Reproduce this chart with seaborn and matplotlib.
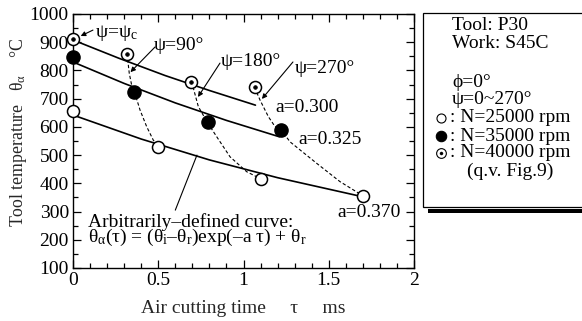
import matplotlib
matplotlib.use("Agg")
import matplotlib.pyplot as plt
import seaborn as sns
import pandas as pd
from matplotlib.lines import Line2D
from matplotlib.patches import Rectangle
from matplotlib.ticker import MultipleLocator, FixedLocator, FixedFormatter

# ---------------- data ----------------
tau_25 = [0.0, 0.50, 1.10, 1.70]
temp_25 = [657, 529, 415, 356]
tau_35 = [0.0, 0.36, 0.79, 1.22]
temp_35 = [848, 725, 616, 590]
tau_40 = [0.0, 0.317, 0.692, 1.065]
temp_40 = [910, 859, 760, 740]

# fitted (solid) curves
fit300_tau = [0.0, 0.27, 0.54, 0.80, 1.07]
fit300_temp = [908, 843, 782, 729, 677]
fit325_tau = [0.0, 0.30, 0.60, 0.90, 1.21]
fit325_temp = [830, 754, 685, 623, 565]
fit370_tau = [0.0, 0.40, 0.80, 1.20, 1.68]
fit370_temp = [642, 557, 483, 420, 355]

# iso-psi (dashed) curves
psi90_tau = [0.317, 0.330, 0.345, 0.36, 0.393, 0.432, 0.471, 0.504]
psi90_temp = [859, 790, 745, 725, 660, 601, 553, 530]
psi180_tau = [0.692, 0.706, 0.735, 0.788, 0.843, 0.921, 1.019, 1.105]
psi180_temp = [760, 737, 672, 616, 565, 494, 441, 415]
psi270_tau = [1.065, 1.097, 1.146, 1.185, 1.22, 1.273, 1.429, 1.566, 1.70]
psi270_temp = [740, 695, 636, 601, 590, 547, 471, 406, 356]

xtick_vals = [0, 0.5, 1, 1.5, 2]
xtick_labels = ["0", "0.5", "1", "1.5", "2"]
ytick_vals = [100, 200, 300, 400, 500, 600, 700, 800, 900, 1000]
ytick_labels = [str(v) for v in ytick_vals]

legend_lines = ["Tool: P30", "Work: S45C", "ϕ=0°", "ψ=0~270°",
                ": N=25000 rpm", ": N=35000 rpm", ": N=40000 rpm", "(q.v. Fig.9)"]

# ---------------- style ----------------
sns.set_theme(style="ticks")
plt.rcParams["font.family"] = ["Liberation Serif", "DejaVu Serif"]
plt.rcParams.update({
    "mathtext.fontset": "custom",
    "mathtext.rm": "Liberation Serif",
    "mathtext.it": "Liberation Serif",
    "mathtext.default": "regular",
    "axes.linewidth": 1.0,
    "axes.edgecolor": "black",
    "text.color": "black",
    "xtick.color": "black",
    "ytick.color": "black",
})

FS = 14

fig = plt.figure(figsize=(5.82, 3.21), dpi=100)
ax = fig.add_axes([73/582, 1-268/321, (414-73)/582, (268-14)/321])

# solid fitted curves
for t, v in [(fit300_tau, fit300_temp), (fit325_tau, fit325_temp), (fit370_tau, fit370_temp)]:
    sns.lineplot(x=t, y=v, ax=ax, color="black", lw=1.2, sort=False, estimator=None, zorder=2)

# dashed iso-psi curves
for t, v in [(psi90_tau, psi90_temp), (psi180_tau, psi180_temp), (psi270_tau, psi270_temp)]:
    sns.lineplot(x=t, y=v, ax=ax, color="black", lw=0.8, sort=False, estimator=None,
                 linestyle=(0, (3, 2)), zorder=2)

# markers
sns.scatterplot(x=tau_25, y=temp_25, ax=ax, s=75, color="white", edgecolor="black",
                linewidth=1.1, zorder=4, clip_on=False)
sns.scatterplot(x=tau_35, y=temp_35, ax=ax, s=90, color="black", edgecolor="black",
                linewidth=1.0, zorder=4, clip_on=False)
sns.scatterplot(x=tau_40, y=temp_40, ax=ax, s=75, color="white", edgecolor="black",
                linewidth=1.1, zorder=4, clip_on=False)
sns.scatterplot(x=tau_40, y=temp_40, ax=ax, s=7, color="black", edgecolor="black",
                linewidth=0.5, zorder=5, clip_on=False)

ax.set_xlim(0, 2)
ax.set_ylim(100, 1000)
ax.xaxis.set_major_locator(FixedLocator(xtick_vals))
ax.xaxis.set_major_formatter(FixedFormatter(xtick_labels))
ax.yaxis.set_major_locator(FixedLocator(ytick_vals))
ax.yaxis.set_major_formatter(FixedFormatter(ytick_labels))
ax.xaxis.set_minor_locator(MultipleLocator(0.1))
ax.yaxis.set_minor_locator(MultipleLocator(50))
ax.tick_params(which="both", direction="in", top=True, right=True, width=0.9,
               labelsize=FS, pad=3)
ax.tick_params(which="major", length=6)
ax.tick_params(which="minor", length=3.5)
for s in ax.spines.values():
    s.set_visible(True)
    s.set_linewidth(1.0)

ax.set_xlabel("Air cutting time     τ     ms", fontsize=FS)
ax.set_ylabel("Tool temperature   θ$_α$    °C", fontsize=12.8)
ax.xaxis.set_label_coords(0.5, -0.125)
ax.yaxis.set_label_coords(-0.161, 0.533)
ax.yaxis.label.set_va("center")

# annotations
arrow_kw = dict(arrowstyle="-|>", color="black", lw=0.8,
                mutation_scale=7, shrinkA=0, shrinkB=0)
ax.annotate("", xy=(0.045, 922), xytext=(0.117, 943), arrowprops=arrow_kw)
ax.annotate("", xy=(0.337, 794), xytext=(0.481, 883), arrowprops=arrow_kw)
ax.annotate("", xy=(0.733, 706), xytext=(0.862, 826), arrowprops=arrow_kw)
ax.annotate("", xy=(1.108, 699), xytext=(1.290, 830), arrowprops=arrow_kw)
ax.annotate("", xy=(0.727, 500), xytext=(0.600, 305),
            arrowprops=dict(arrowstyle="-", color="black", lw=0.8, shrinkA=0, shrinkB=0))

ax.text(0.129, 934, "ψ=ψ$_c$", fontsize=FS, ha="left", va="center")
ax.text(0.475, 890, "ψ=90°", fontsize=FS, ha="left", va="center")
ax.text(0.868, 830, "ψ=180°", fontsize=FS, ha="left", va="center")
ax.text(1.302, 808, "ψ=270°", fontsize=FS, ha="left", va="center")
ax.text(1.185, 670, "a=0.300", fontsize=FS, ha="left", va="center")
ax.text(1.320, 557, "a=0.325", fontsize=FS, ha="left", va="center")
ax.text(1.548, 298, "a=0.370", fontsize=FS, ha="left", va="center")
ax.text(0.086, 247, "Arbitrarily–defined curve:", fontsize=FS, ha="left", va="baseline")
ax.text(0.086, 192, "θ$_α$(τ) = (θ$_i$–θ$_r$)exp(–a τ) + θ$_r$", fontsize=FS,
        ha="left", va="baseline")

# ---------------- legend box (figure coords) ----------------
W, H = 582.0, 321.0
def fx(px):
    return px / W
def fy(py):
    return 1 - py / H

fig.add_artist(Rectangle((fx(428), fy(213)), fx(600) - fx(428), fy(209) - fy(213),
                         transform=fig.transFigure, facecolor="black", edgecolor="none"))
fig.add_artist(Rectangle((fx(423), fy(207)), fx(620) - fx(423), fy(13) - fy(207),
                         transform=fig.transFigure, facecolor="white", edgecolor="black",
                         linewidth=0.9))

rows_y = [25, 43, 83, 100, 118, 136, 153, 171]
rows_x = [452, 452, 452, 452, 450, 450, 450, 467]
for txt, px, py in zip(legend_lines, rows_x, rows_y):
    fig.text(fx(px), fy(py), txt, fontsize=FS, ha="left", va="center")

fig.add_artist(Line2D([fx(441)], [fy(118)], marker="o", markersize=6.5, markerfacecolor="white",
                      markeredgecolor="black", markeredgewidth=0.8, transform=fig.transFigure))
fig.add_artist(Line2D([fx(441)], [fy(136)], marker="o", markersize=7.5, markerfacecolor="black",
                      markeredgecolor="black", markeredgewidth=0.8, transform=fig.transFigure))
fig.add_artist(Line2D([fx(441)], [fy(153)], marker="o", markersize=7, markerfacecolor="white",
                      markeredgecolor="black", markeredgewidth=0.8, transform=fig.transFigure))
fig.add_artist(Line2D([fx(441)], [fy(153)], marker="o", markersize=2.2, markerfacecolor="black",
                      markeredgecolor="black", markeredgewidth=0.3, transform=fig.transFigure))

fig.savefig("out.png", dpi=100)
